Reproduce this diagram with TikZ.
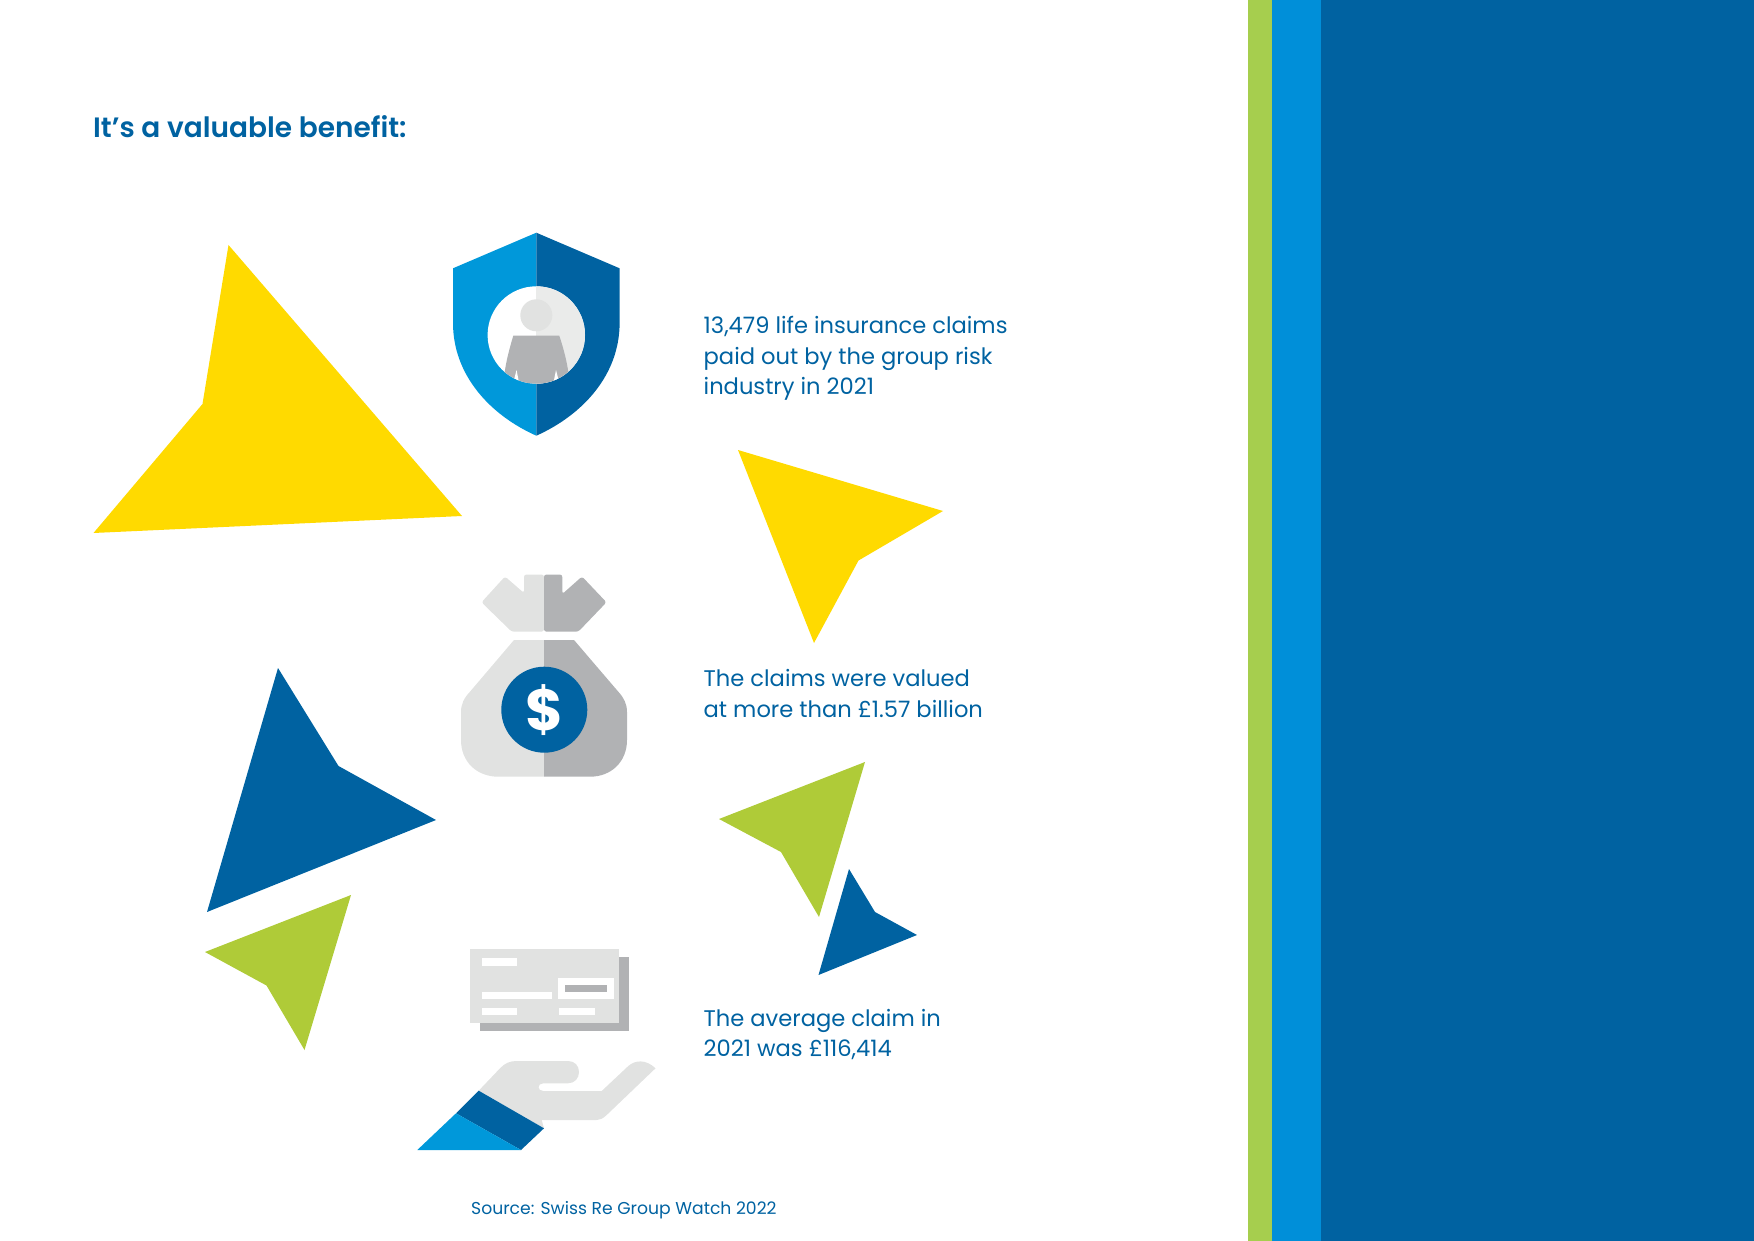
\documentclass[tikz,border=0pt]{standalone}
\usepackage{fontspec}
\setmainfont[BoldFont={Poppins SemiBold}]{Poppins}
\newfontfamily\dollarfont[BoldFont={Poppins Bold}]{Poppins}
\definecolor{darkblue}{HTML}{0062A1}
\definecolor{midblue}{HTML}{0098DA}
\definecolor{barblue}{HTML}{008FD9}
\definecolor{bargreen}{HTML}{A6CE4E}
\definecolor{leafgreen}{HTML}{AFCB38}
\definecolor{sunyellow}{HTML}{FFDA00}
\definecolor{lightgrey}{HTML}{E1E2E1}
\definecolor{midgrey}{HTML}{B1B2B4}
\tikzset{
  caption/.style={anchor=west, inner sep=0pt, align=left, text=darkblue, font=\fontsize{22.6}{30.3}\selectfont},
}
\begin{document}
\begin{tikzpicture}[x=1pt,y=-1pt]
\useasboundingbox (0,0) rectangle (1754,1241);

% side bars
\fill[bargreen] (1248,0) rectangle (1272,1241);
\fill[barblue] (1272,0) rectangle (1321,1241);
\fill[darkblue] (1321,0) rectangle (1754,1241);

\node(title)[caption, font=\fontsize{28}{34}\selectfont\bfseries] at (93,127) {It’s a valuable benefit:};

% arrow shapes
\fill[sunyellow] (228.5,245) -- (462,516) -- (93.5,533) -- (202.5,404) -- cycle;
\fill[sunyellow] (738,450) -- (943,511) -- (858.5,560.5) -- (814,643) -- cycle;
\fill[darkblue] (278,668) -- (338.5,766) -- (436,820) -- (207,912) -- cycle;
\fill[leafgreen] (351,895) -- (304.5,1050) -- (266.5,985.5) -- (205,952) -- cycle;
\fill[leafgreen] (865,762) -- (819,917) -- (781,852) -- (719,819) -- cycle;
\fill[darkblue] (849,869) -- (875,912) -- (917,935) -- (818.5,975) -- cycle;

% shield
\fill[midblue] (536.3,232.7) -- (453,268.3) -- (453,323) .. controls (453,375) and (490,415) .. (536.3,435.7) -- cycle;
\fill[darkblue] (536.3,232.7) -- (619.6,268.3) -- (619.6,323) .. controls (619.6,375) and (582.6,415) .. (536.3,435.7) -- cycle;
\fill[white] (536.3,335) circle[radius=48.7];
\begin{scope}
\clip (536.3,335) circle[radius=48.7];
\fill[lightgrey!70] (536.3,280) rectangle (590,390);
\fill[midgrey] (513.3,335.7) -- (559.3,335.7) .. controls (564,350) and (567,362) .. (568.5,373.5) -- (558,390) -- (514,390) -- (504.5,373.5) .. controls (506,362) and (509,350) .. (513.3,335.7) -- cycle;
\fill[white] (516.5,370) -- (518.5,380) -- (514,380) -- cycle;
\fill[white] (556,370) -- (558.5,380) -- (554,380) -- cycle;
\end{scope}
\fill[lightgrey] (536.3,315.3) circle[radius=16];

% money bag
\fill[lightgrey, rounded corners=2.5pt] (544,631.7) -- (511.7,631.7) -- (481.5,602.3) -- (505,576.5) -- (524,593) -- (524,574.5) -- (544,574.5) -- cycle;
\fill[midgrey, rounded corners=2.5pt] (544,631.7) -- (578.3,631.7) -- (606.5,602.3) -- (582,576.5) -- (562.3,594) -- (562.3,574.5) -- (544,574.5) -- cycle;
\fill[lightgrey] (544,640) -- (514,640) -- (470,691.7) .. controls (464,698) and (461,704) .. (461,712) -- (461,740) .. controls (461,762) and (477,776.7) .. (498.3,776.7) -- (544,776.7) -- cycle;
\fill[midgrey] (544,640) -- (574,640) -- (618.3,691.7) .. controls (624,698) and (627,704) .. (627,712) -- (627,740) .. controls (627,762) and (611,776.7) .. (590,776.7) -- (544,776.7) -- cycle;
\fill[darkblue] (544.3,709.7) circle[radius=43];
\node(dollar)[text=white, inner sep=0pt, font=\dollarfont\fontsize{58}{58}\selectfont\bfseries] at (544.8,709.7) {\$};

% cheque
\fill[midgrey] (480,956.7) rectangle (629.3,1030.7);
\fill[lightgrey] (470,949) rectangle (619.3,1022.7);
\fill[white] (482.3,958) rectangle (517,965.7);
\fill[white] (482.3,991.7) rectangle (552,999);
\fill[white] (482.3,1007.7) rectangle (517,1015);
\fill[white] (558.7,1007.7) rectangle (595.3,1015);
\fill[white] (558,978.3) rectangle (613.7,999);
\fill[midgrey] (565,985) rectangle (607,992.3);

% hand
\fill[lightgrey] (478.7,1090.7) -- (500,1068.3) .. controls (505,1063) and (510,1061) .. (516.7,1061) -- (568,1061) .. controls (575,1061) and (579,1066) .. (579,1072) .. controls (579,1078) and (575,1083.3) .. (568,1083.3) -- (543.3,1083.3) .. controls (537,1083.3) and (537,1091) .. (543.3,1091) -- (601.7,1091) -- (628.3,1066) .. controls (635,1060) and (646,1059) .. (655.5,1068.3) -- (606.7,1115) .. controls (603,1118.5) and (600,1120) .. (596.7,1120) -- (541.7,1120) -- (544,1128.3) -- cycle;
\fill[darkblue] (478.7,1090.7) -- (544,1128.3) -- (521,1150) -- (456,1113.3) -- cycle;
\fill[midblue] (456,1113.3) -- (521,1150) -- (417.3,1150) -- cycle;

\node(claims)[caption] at (703.5,358.5) {13,479 life insurance claims\\paid out by the group risk\\industry in 2021};
\node(value)[caption] at (703.5,693.5) {The claims were valued\\at more than £1.57 billion};
\node(average)[caption] at (703.5,1034.5) {The average claim in\\2021 was £116,414};
\node(source)[caption, font=\fontsize{17.2}{20}\selectfont] at (471,1210.5) {Source: Swiss Re Group Watch 2022};
\end{tikzpicture}
\end{document}
